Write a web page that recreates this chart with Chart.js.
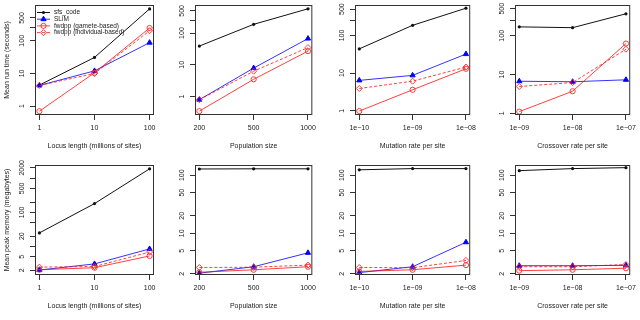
<!DOCTYPE html>
<html><head><meta charset="utf-8">
<script src="https://cdn.jsdelivr.net/npm/chart.js@4.4.1/dist/chart.umd.min.js"></script>
<style>
html,body{margin:0;padding:0;background:#fff;}
#wrap{position:relative;width:640px;height:320px;overflow:hidden;background:#fff;}
canvas{position:absolute;}
</style></head><body><div id="wrap"></div>
<script>
// ---- categories (x tick labels) ----
const locusLengths = ['1', '10', '100'];
const popSizes = ['200', '500', '1000'];
const mutationRates = ['1e\u221210', '1e\u221209', '1e\u221208'];
const crossoverRates = ['1e\u221209', '1e\u221208', '1e\u221207'];

const seriesNames = ['sfs_code', 'SLiM', 'fwdpp (gamete-based)', 'fwdpp (individual-based)'];

// ---- mean run time (seconds) ----
const timeLocusSfs = [4.4, 31, 950];
const timeLocusSlim = [4.3, 12, 88];
const timeLocusGamete = [0.70, 10.5, 247];
const timeLocusIndiv = [4.3, 10, 204];

const timePopSfs = [39, 188, 580];
const timePopSlim = [0.8, 7.9, 67];
const timePopGamete = [0.35, 3.5, 27];
const timePopIndiv = [0.8, 6.3, 35];

const timeMutSfs = [44, 186, 530];
const timeMutSlim = [6.4, 8.7, 32];
const timeMutGamete = [0.98, 3.6, 13];
const timeMutIndiv = [3.9, 6.1, 14.5];

const timeRecSfs = [170, 162, 370];
const timeRecSlim = [6.7, 6.5, 7.3];
const timeRecGamete = [1.1, 3.7, 63];
const timeRecIndiv = [4.9, 6.2, 45];

// ---- mean peak memory (megabytes) ----
const memLocusSfs = [25, 180, 1870];
const memLocusSlim = [2.05, 3.1, 8.5];
const memLocusGamete = [2.1, 2.4, 5.3];
const memLocusIndiv = [2.5, 2.6, 6.9];

const memPopSfs = [128, 129, 129];
const memPopSlim = [2.05, 2.65, 4.6];
const memPopGamete = [2.13, 2.35, 2.65];
const memPopIndiv = [2.57, 2.6, 2.83];

const memMutSfs = [124, 130, 130];
const memMutSlim = [2.1, 2.65, 7.0];
const memMutGamete = [2.2, 2.35, 2.83];
const memMutIndiv = [2.57, 2.55, 3.4];

const memRecSfs = [120, 130, 135];
const memRecSlim = [2.76, 2.76, 2.8];
const memRecGamete = [2.27, 2.35, 2.5];
const memRecIndiv = [2.65, 2.65, 2.9];

// ---- y tick values and labels ----
const timeTicks = [1, 10, 100, 250, 500];
const timeTickLabels = ['1', '10', '100', '', '500'];
const memTicksWide = [2, 5, 10, 20, 50, 100, 200, 500, 1000, 2000];
const memTickLabelsWide = ['2', '5', '', '20', '', '100', '', '500', '', '2000'];
const memTicks = [2, 5, 10, 20, 50, 100];
const memTickLabels = ['2', '5', '10', '20', '50', '100'];

// ---- axis ranges ----
const timeRangeLocus = [0.535, 1250];
const timeRangePop = [0.264, 763];
const timeRangeMut = [0.77, 645];
const timeRangeRec = [0.90, 624];
const memRangeLocus = [1.47, 2420];
const memRangeOther = [1.91, 150];

const FONT = '"Liberation Sans", Arial, Helvetica, sans-serif';
Chart.defaults.font.family = FONT;

const panels = [
  {cats: locusLengths, xTitle: 'Locus length (millions of sites)', yTitle: 'Mean run time (seconds)', legend: true,
   series: [timeLocusSfs, timeLocusSlim, timeLocusGamete, timeLocusIndiv], ticks: timeTicks, labels: timeTickLabels, range: timeRangeLocus},
  {cats: popSizes, xTitle: 'Population size',
   series: [timePopSfs, timePopSlim, timePopGamete, timePopIndiv], ticks: timeTicks, labels: timeTickLabels, range: timeRangePop},
  {cats: mutationRates, xTitle: 'Mutation rate per site',
   series: [timeMutSfs, timeMutSlim, timeMutGamete, timeMutIndiv], ticks: timeTicks, labels: timeTickLabels, range: timeRangeMut},
  {cats: crossoverRates, xTitle: 'Crossover rate per site',
   series: [timeRecSfs, timeRecSlim, timeRecGamete, timeRecIndiv], ticks: timeTicks, labels: timeTickLabels, range: timeRangeRec},
  {cats: locusLengths, xTitle: 'Locus length (millions of sites)', yTitle: 'Mean peak memory (megabytes)',
   series: [memLocusSfs, memLocusSlim, memLocusGamete, memLocusIndiv], ticks: memTicksWide, labels: memTickLabelsWide, range: memRangeLocus},
  {cats: popSizes, xTitle: 'Population size',
   series: [memPopSfs, memPopSlim, memPopGamete, memPopIndiv], ticks: memTicks, labels: memTickLabels, range: memRangeOther},
  {cats: mutationRates, xTitle: 'Mutation rate per site',
   series: [memMutSfs, memMutSlim, memMutGamete, memMutIndiv], ticks: memTicks, labels: memTickLabels, range: memRangeOther},
  {cats: crossoverRates, xTitle: 'Crossover rate per site',
   series: [memRecSfs, memRecSlim, memRecGamete, memRecIndiv], ticks: memTicks, labels: memTickLabels, range: memRangeOther},
];

const styles = [
  {borderColor: '#111', pointBackgroundColor: '#111', pointBorderColor: '#111', pointStyle: 'circle', pointRadius: 1.6, pointBorderWidth: 0, borderDash: []},
  {borderColor: 'rgba(0,0,255,0.8)', pointBackgroundColor: '#0000ff', pointBorderColor: '#0000ff', pointStyle: 'triangle', pointRadius: 3, pointBorderWidth: 1, borderDash: []},
  {borderColor: 'rgba(255,0,0,0.75)', pointBackgroundColor: 'rgba(0,0,0,0)', pointBorderColor: 'rgba(255,40,40,0.9)', pointStyle: 'circle', pointRadius: 2.6, pointBorderWidth: 1, borderDash: []},
  {borderColor: 'rgba(255,0,0,0.75)', pointBackgroundColor: 'rgba(0,0,0,0)', pointBorderColor: 'rgba(255,40,40,0.9)', pointStyle: 'rectRot', pointRadius: 3, pointBorderWidth: 1, borderDash: [3, 2]},
];

const framePlugin = {
  id: 'frame',
  afterDraw(chart, args, o) {
    const {ctx, chartArea: a} = chart;
    ctx.save();
    ctx.strokeStyle = '#333';
    ctx.lineWidth = 1;
    ctx.strokeRect(a.left + 0.5, a.top + 0.5, a.right - a.left - 1, a.bottom - a.top - 1);
    const ys = chart.scales.y;
    ctx.fillStyle = '#222';
    ctx.font = '7px ' + FONT;
    ctx.textAlign = 'center';
    ctx.textBaseline = 'middle';
    o.ticks.forEach((v, i) => {
      const lab = o.labels[i];
      if (!lab) return;
      const py = ys.getPixelForValue(v);
      ctx.save();
      ctx.translate(a.left - 13, py);
      ctx.rotate(-Math.PI / 2);
      ctx.fillText(lab, 0, 0);
      ctx.restore();
    });
    if (o.legend) {
      chart.data.datasets.forEach((ds, i) => {
        const y = a.top + 7.5 + 6.7 * i;
        const x0 = a.left + 2;
        ctx.save();
        ctx.strokeStyle = ds.borderColor;
        ctx.lineWidth = 1;
        ctx.setLineDash(ds.borderDash || []);
        ctx.beginPath(); ctx.moveTo(x0, y); ctx.lineTo(x0 + 13, y); ctx.stroke();
        ctx.setLineDash([]);
        ctx.fillStyle = ds.pointBackgroundColor;
        ctx.strokeStyle = ds.pointBorderColor;
        ctx.lineWidth = ds.pointBorderWidth;
        Chart.helpers.drawPoint(ctx, {pointStyle: ds.pointStyle, radius: ds.pointRadius, borderWidth: ds.pointBorderWidth, rotation: 0}, x0 + 6.5, y);
        ctx.fillStyle = '#222';
        ctx.textAlign = 'left';
        ctx.textBaseline = 'middle';
        ctx.font = '6.5px ' + FONT;
        ctx.fillText(ds.label, x0 + 17, y);
        ctx.restore();
      });
    }
    ctx.restore();
  }
};

const wrap = document.getElementById('wrap');
panels.forEach((p, idx) => {
  const c = document.createElement('canvas');
  c.width = 160; c.height = 160;
  c.style.width = '160px'; c.style.height = '160px';
  c.style.left = (160 * (idx % 4)) + 'px';
  c.style.top = (160 * Math.floor(idx / 4)) + 'px';
  wrap.appendChild(c);
  const datasets = p.series.map((vals, si) => Object.assign({
    label: seriesNames[si],
    data: vals.map((v, k) => ({x: k, y: v})),
    borderWidth: 1,
    tension: 0,
    fill: false,
    order: 3 - si,
  }, styles[si]));
  new Chart(c, {
    type: 'line',
    data: {datasets},
    plugins: [framePlugin],
    options: {
      responsive: false,
      animation: false,
      devicePixelRatio: 1,
      layout: {padding: {left: 0, right: 6, top: 5, bottom: 0}},
      plugins: {
        legend: {display: false},
        tooltip: {enabled: false},
        frame: {ticks: p.ticks, labels: p.labels, legend: !!p.legend},
      },
      scales: {
        x: {
          type: 'linear', min: -0.08, max: 2.08,
          afterBuildTicks: s => { s.ticks = p.cats.map((_, k) => ({value: k})); },
          afterFit: s => { s.height = 45; },
          ticks: {callback: v => p.cats[v], font: {size: 7}, color: '#222', padding: 4, maxRotation: 0, minRotation: 0, autoSkip: false},
          grid: {drawOnChartArea: false, drawTicks: true, tickLength: 5, color: '#333'},
          border: {display: false},
          title: {display: true, text: p.xTitle, font: {size: 7}, color: '#222', padding: {top: 0, bottom: 10}},
        },
        y: {
          type: 'logarithmic', min: p.range[0], max: p.range[1],
          afterBuildTicks: s => { s.ticks = p.ticks.map(v => ({value: v})); },
          afterFit: s => { s.width = 35; },
          ticks: {display: false},
          grid: {drawOnChartArea: false, drawTicks: true, tickLength: 5, color: '#333'},
          border: {display: false},
          title: {display: !!p.yTitle, text: p.yTitle || '', font: {size: 7}, color: '#222', padding: {top: 3, bottom: 0}},
        },
      },
    },
  });
});
</script></body></html>
